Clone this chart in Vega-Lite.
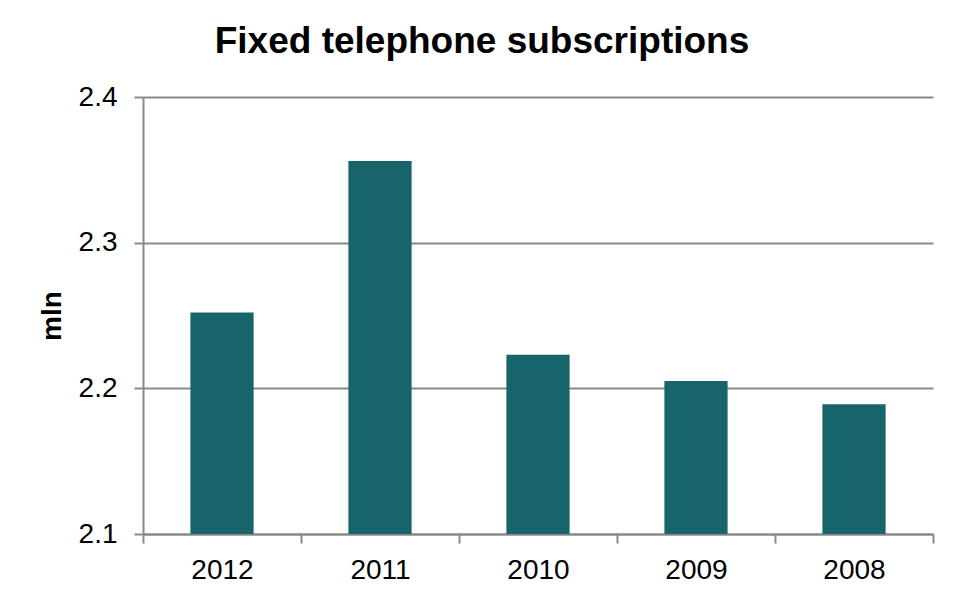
{
  "$schema": "https://vega.github.io/schema/vega-lite/v6.json",
  "autosize": "none",
  "width": 790,
  "height": 437,
  "padding": {"left": 143, "top": 97, "right": 28, "bottom": 68},
  "background": "white",
  "title": {
    "text": "Fixed telephone subscriptions",
    "font": "Liberation Sans",
    "fontSize": 37,
    "fontWeight": "bold",
    "color": "black",
    "anchor": "middle",
    "dx": -56,
    "offset": 22
  },
  "data": {
    "values": [
      {"year": "2012", "value": 2.252},
      {"year": "2011", "value": 2.356},
      {"year": "2010", "value": 2.223},
      {"year": "2009", "value": 2.205},
      {"year": "2008", "value": 2.189}
    ]
  },
  "mark": {"type": "bar", "color": "#17656B", "clip": true, "width": {"band": 0.4}},
  "encoding": {
    "x": {
      "field": "year",
      "type": "nominal",
      "sort": null,
      "scale": {"paddingInner": 0, "paddingOuter": 0},
      "axis": {
        "title": null,
        "labelAngle": 0,
        "labelFont": "Liberation Sans",
        "labelFontSize": 28,
        "labelColor": "black",
        "labelPadding": 13,
        "tickBand": "extent",
        "tickSize": 9,
        "tickColor": "#898989",
        "tickWidth": 2,
        "domainColor": "#898989",
        "domainWidth": 2,
        "grid": false
      }
    },
    "y": {
      "field": "value",
      "type": "quantitative",
      "scale": {"domain": [2.1, 2.4], "zero": false, "nice": false},
      "axis": {
        "title": "mln",
        "titleFont": "Liberation Sans",
        "titleFontSize": 28,
        "titleFontWeight": "bold",
        "titleColor": "black",
        "titlePadding": 12,
        "values": [2.1, 2.2, 2.3, 2.4],
        "format": ".1f",
        "labelFont": "Liberation Sans",
        "labelFontSize": 28,
        "labelColor": "black",
        "labelPadding": 17,
        "tickSize": 9,
        "tickColor": "#898989",
        "tickWidth": 2,
        "domainColor": "#898989",
        "domainWidth": 2,
        "grid": true,
        "gridColor": "#898989",
        "gridWidth": 2
      }
    }
  },
  "config": {
    "view": {"stroke": null}
  }
}
